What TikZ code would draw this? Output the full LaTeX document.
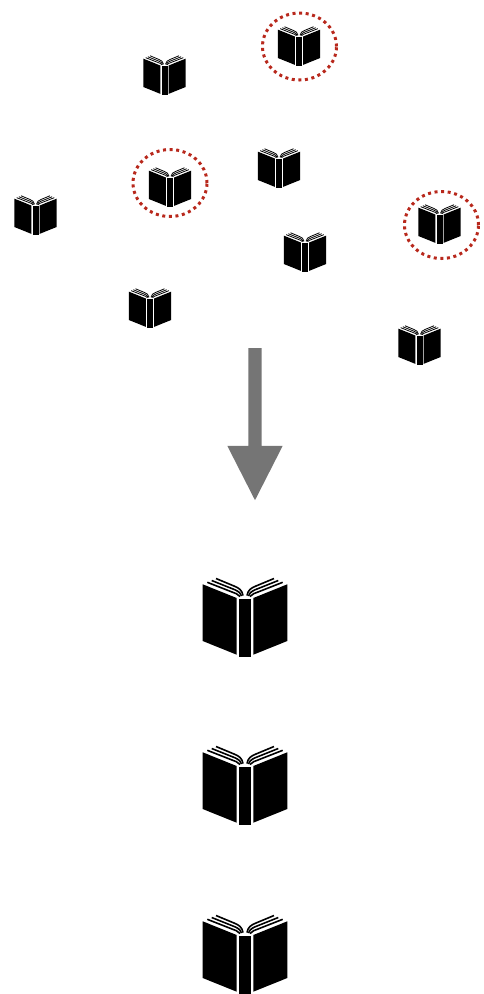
\documentclass[tikz,border=0pt]{standalone}
\usetikzlibrary{shapes}
\usetikzlibrary{arrows}
\definecolor{markred}{HTML}{B8281C}
\definecolor{arrowgray}{HTML}{757575}
\tikzset{
	node_mark/.style = {
		ellipse,
		draw=markred,
		line width=3pt,
		dash pattern=on 3pt off 3.6pt,
		inner sep=0pt,
		minimum width=74pt,
		minimum height=67pt
	},
	node_down/.style = {
		single arrow,
		fill=arrowgray,
		rotate=-90,
		anchor=tail,
		inner sep=6.5pt,
		minimum height=152pt,
		single arrow head extend=21pt,
		single arrow tip angle=54
	},
	book_icon/.pic = {
		\begin{scope}[scale=#1]
			\fill (-42.3,-32.7) -- (-8.3,-19) -- (-8.3,37.7) -- (-42.3,24) -- cycle;
			\fill (42.3,-32.7) -- (8.3,-19) -- (8.3,37.7) -- (42.3,24) -- cycle;
			\fill (-6,-18) rectangle (6,40);
			\foreach \s in {-1,1} {
				\draw[line width=#1*1.6pt] (\s*29,-38.5) -- (\s*11,-31) .. controls (\s*6,-29) and (\s*3,-27) .. (\s*2,-21.5);
				\draw[line width=#1*1.6pt] (\s*33.3,-36.5) -- (\s*12,-28) .. controls (\s*8,-26.5) and (\s*5,-25) .. (\s*3.5,-21);
				\draw[line width=#1*1.6pt] (\s*37.7,-34.7) -- (\s*13,-25) .. controls (\s*10,-24) and (\s*7,-23) .. (\s*5,-20.5);
			}
		\end{scope}
	}
}

\begin{document}
\begin{tikzpicture}[x=1pt,y=-1pt]
\useasboundingbox (0,0) rectangle (484,994);
% loose books
\foreach \px/\py in {164.5/75, 299/46, 279/168, 170/187, 35.5/215, 305/252, 439.5/224, 150/308, 419.5/345} {
	\pic at (\px,\py) {book_icon=0.5};
}
% picked ones
\node [node_mark] (mark_a) at (299.5,46.5) {};
\node [node_mark] (mark_b) at (170,183) {};
\node [node_mark] (mark_c) at (441.5,225) {};
\node [node_down] (arrow_down) at (255,348) {};
% result
\foreach \py in {617,785,954} {
	\pic at (245,\py) {book_icon=1};
}
\end{tikzpicture}
\end{document}
